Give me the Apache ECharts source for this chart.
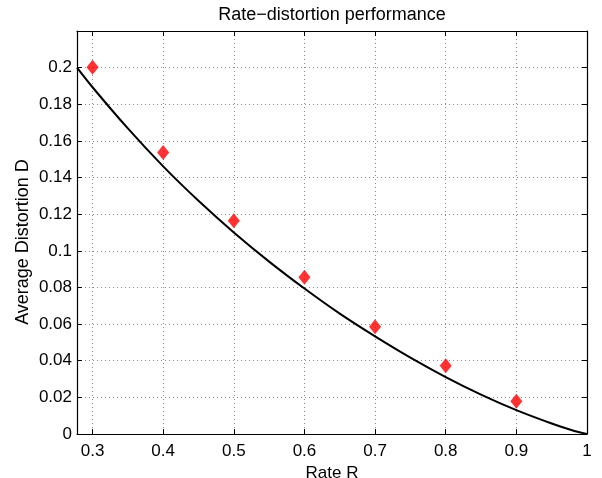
<!DOCTYPE html>
<html>
<head>
<meta charset="utf-8">
<script src="https://cdn.jsdelivr.net/npm/echarts@6/dist/echarts.min.js"></script>
<style>html,body{margin:0;padding:0;background:#fff;overflow:hidden}#c{width:602px;height:478px}</style>
</head>
<body>
<div id="c"></div>
<script>
// Theoretical curve: rate R -> distortion D
const curveR = [0.278, 0.3, 0.35, 0.4, 0.45, 0.5, 0.55, 0.6, 0.65, 0.7, 0.75, 0.8, 0.85, 0.9, 0.95, 0.98, 1.0];
const curveD = [0.200, 0.1893, 0.1668, 0.1461, 0.1273, 0.1100, 0.0941, 0.0794, 0.0657, 0.0533, 0.0417, 0.0311, 0.0215, 0.0130, 0.0057, 0.0019, 0.0];
// Measured points (red diamonds)
const pointR = [0.3, 0.4, 0.5, 0.6, 0.7, 0.8, 0.9];
const pointD = [0.2002, 0.1537, 0.1164, 0.0856, 0.0586, 0.0373, 0.0179];
// Tick values
const xTicks = [0.3, 0.4, 0.5, 0.6, 0.7, 0.8, 0.9, 1.0];

const FONT = "'Liberation Sans', Arial, Helvetica, sans-serif";
const FS = 17;
const chart = echarts.init(document.getElementById('c'), null, {renderer: 'canvas'});
const gridLine = {show: true, lineStyle: {color: '#8c8c8c', type: [1, 3], width: 1}};
const axisLine = {show: true, onZero: false, lineStyle: {color: '#000', width: 1.2}};
chart.setOption({
  animation: false,
  backgroundColor: '#fff',
  title: {
    text: 'Rate\u2212distortion performance',
    left: 327, top: 1, textAlign: 'center',
    textStyle: {fontFamily: FONT, fontSize: 18, fontWeight: 'normal', color: '#000'}
  },
  graphic: [{
    type: 'text', x: 23, y: 242, rotation: Math.PI / 2,
    style: {text: 'Average Distortion D', fontFamily: FONT, fontSize: 18, fill: '#000',
      align: 'center', verticalAlign: 'middle'}
  }],
  grid: {left: 77, right: 15, top: 31, bottom: 44, containLabel: false, outerBoundsMode: 'none'},
  xAxis: [{
    type: 'value', min: 0.278, max: 1, position: 'bottom',
    name: 'Rate R', nameLocation: 'middle', nameGap: 22,
    nameTextStyle: {fontFamily: FONT, fontSize: FS, color: '#000'},
    axisLine: axisLine,
    axisTick: {show: true, inside: true, length: 5, customValues: xTicks, lineStyle: {color: '#000'}},
    axisLabel: {customValues: xTicks, fontFamily: FONT, fontSize: FS, color: '#000', margin: 9,
      formatter: v => String(+v.toFixed(2))},
    splitLine: gridLine
  }, {
    type: 'value', min: 0.278, max: 1, position: 'top',
    axisLine: axisLine,
    axisTick: {show: true, inside: true, length: 5, customValues: xTicks, lineStyle: {color: '#000'}},
    axisLabel: {show: false}, splitLine: {show: false}
  }],
  yAxis: [{
    type: 'value', min: 0, max: 0.22, interval: 0.02, position: 'left',
    axisLine: axisLine,
    axisTick: {show: true, inside: true, length: 5, lineStyle: {color: '#000'}},
    axisLabel: {showMaxLabel: false, fontFamily: FONT, fontSize: FS, color: '#000', margin: 5,
      formatter: v => (v >= 0.219 ? '' : String(+v.toFixed(2)))},
    splitLine: gridLine
  }, {
    type: 'value', min: 0, max: 0.22, interval: 0.02, position: 'right',
    axisLine: axisLine,
    axisTick: {show: true, inside: true, length: 5, lineStyle: {color: '#000'}},
    axisLabel: {show: false}, splitLine: {show: false}
  }],
  series: [{
    type: 'line', xAxisIndex: 0, yAxisIndex: 0,
    data: curveR.map((r, i) => [r, curveD[i]]),
    smooth: 0.3, showSymbol: false, symbol: 'none',
    lineStyle: {color: '#000', width: 2}, z: 3
  }, {
    type: 'scatter', xAxisIndex: 0, yAxisIndex: 0,
    data: pointR.map((r, i) => [r, pointD[i]]),
    symbol: 'diamond', symbolSize: [12, 15],
    itemStyle: {color: '#ff0000'}, z: 4
  }]
});
</script>
</body>
</html>
